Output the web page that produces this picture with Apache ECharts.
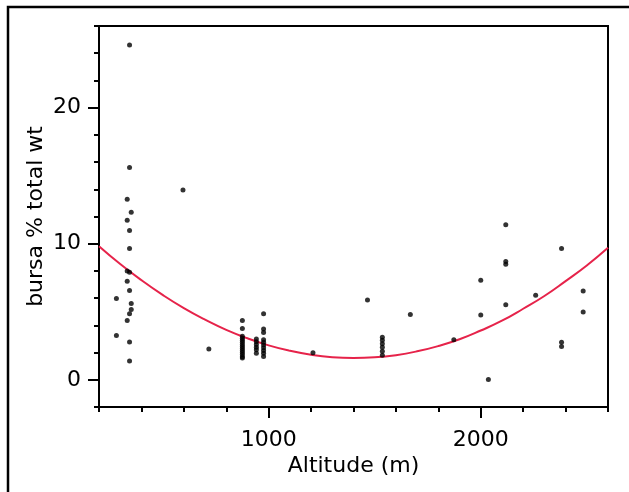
<!DOCTYPE html>
<html>
<head>
<meta charset="utf-8">
<script src="https://cdn.jsdelivr.net/npm/echarts@6/dist/echarts.min.js"></script>
<style>html,body{margin:0;padding:0;background:#fff}#chart{width:629px;height:492px}</style>
</head>
<body>
<div id="chart"></div>
<script>
// Sample sites: altitude (m) and bursa % total wt readings at each site
const altitudes = [282, 333, 344, 352, 596, 718, 876, 942, 976, 1209, 1466, 1536, 1668, 1873, 2000, 2036, 2118, 2259, 2381, 2483];
const bursaValues = [
  [5.97, 3.26],
  [13.26, 11.73, 8.0, 7.24, 4.35],
  [24.6, 15.6, 10.98, 9.65, 7.9, 6.56, 4.86, 2.78, 1.38],
  [12.32, 5.6, 5.16],
  [13.94],
  [2.26],
  [4.35, 3.76, 3.2, 3.05, 2.9, 2.75, 2.6, 2.45, 2.3, 2.15, 2.0, 1.85, 1.7, 1.6],
  [3.0, 2.8, 2.6, 2.4, 2.2, 1.95],
  [4.86, 3.73, 3.48, 2.95, 2.75, 2.55, 2.35, 2.15, 1.95, 1.72],
  [1.99],
  [5.87],
  [3.12, 2.9, 2.65, 2.4, 2.1, 1.8],
  [4.79],
  [2.95],
  [7.32, 4.76],
  [0.03],
  [11.4, 8.7, 8.5, 5.52],
  [6.21],
  [9.65, 2.75, 2.45],
  [6.53, 4.99]
];
// Fitted curve
const fitX = [200, 300, 400, 500, 600, 700, 800, 900, 1000, 1100, 1200, 1300, 1400, 1500, 1600, 1700, 1800, 1900, 2000, 2100, 2200, 2300, 2400, 2500, 2600];
const fitY = [9.82, 8.51, 7.32, 6.24, 5.27, 4.42, 3.67, 3.05, 2.53, 2.13, 1.84, 1.66, 1.6, 1.65, 1.81, 2.09, 2.48, 2.98, 3.62, 4.34, 5.22, 6.16, 7.25, 8.4, 9.7];
// Tick labels
const xMajorTicks = [1000, 2000];
const yMajorTicks = [0, 10, 20];

const points = [];
altitudes.forEach((a, i) => bursaValues[i].forEach(v => points.push([a, v])));
const fitLine = fitX.map((x, i) => [x, fitY[i]]);

const font = 'DejaVu Sans';
const plain = v => String(v);
const chart = echarts.init(document.getElementById('chart'), null, {renderer: 'canvas'});
const xBase = {type: 'value', min: 200, max: 2600, splitLine: {show: false}, position: 'bottom'};
const yBase = {type: 'value', min: -2, max: 26, splitLine: {show: false}, position: 'left'};
chart.setOption({
  animation: false,
  backgroundColor: '#fff',
  grid: {left: 99, right: 21, top: 26, bottom: 85, show: true, borderColor: '#000', borderWidth: 2, backgroundColor: 'transparent'},
  xAxis: [
    Object.assign({}, xBase, {
      interval: 200,
      axisLine: {show: true, onZero: false, lineStyle: {color: '#000', width: 2}},
      axisTick: {show: true, length: 5, lineStyle: {color: '#000', width: 2}},
      axisLabel: {show: false},
      name: 'Altitude (m)', nameLocation: 'middle', nameGap: 48,
      nameTextStyle: {color: '#000', fontSize: 22, fontFamily: font}
    }),
    Object.assign({}, xBase, {
      axisLine: {show: false, onZero: false},
      axisTick: {show: true, length: 11, customValues: xMajorTicks, lineStyle: {color: '#000', width: 2}},
      axisLabel: {show: true, customValues: xMajorTicks, formatter: plain, margin: 22, color: '#000', fontSize: 22, fontFamily: font}
    })
  ],
  yAxis: [
    Object.assign({}, yBase, {
      interval: 2,
      axisLine: {show: true, onZero: false, lineStyle: {color: '#000', width: 2}},
      axisTick: {show: true, length: 5, lineStyle: {color: '#000', width: 2}},
      axisLabel: {show: false},
      name: 'bursa % total wt', nameLocation: 'middle', nameGap: 52,
      nameTextStyle: {color: '#000', fontSize: 22, fontFamily: font}
    }),
    Object.assign({}, yBase, {
      axisLine: {show: false, onZero: false},
      axisTick: {show: true, length: 11, customValues: yMajorTicks, lineStyle: {color: '#000', width: 2}},
      axisLabel: {show: true, customValues: yMajorTicks, formatter: plain, margin: 18, color: '#000', fontSize: 22, fontFamily: font}
    })
  ],
  graphic: [{
    type: 'polyline', shape: {points: [[8, 492], [8, 7], [629, 7]]},
    style: {stroke: '#000', lineWidth: 2.5, fill: null}, silent: true
  }],
  series: [
    {
      type: 'line', data: fitLine, smooth: true, showSymbol: false, symbol: 'none',
      lineStyle: {color: '#e6234a', width: 2}, xAxisIndex: 0, yAxisIndex: 0, z: 2
    },
    {
      type: 'scatter', data: points, symbol: 'circle', symbolSize: 5,
      itemStyle: {color: '#000'}, xAxisIndex: 0, yAxisIndex: 0, z: 3
    }
  ]
});
</script>
</body>
</html>
